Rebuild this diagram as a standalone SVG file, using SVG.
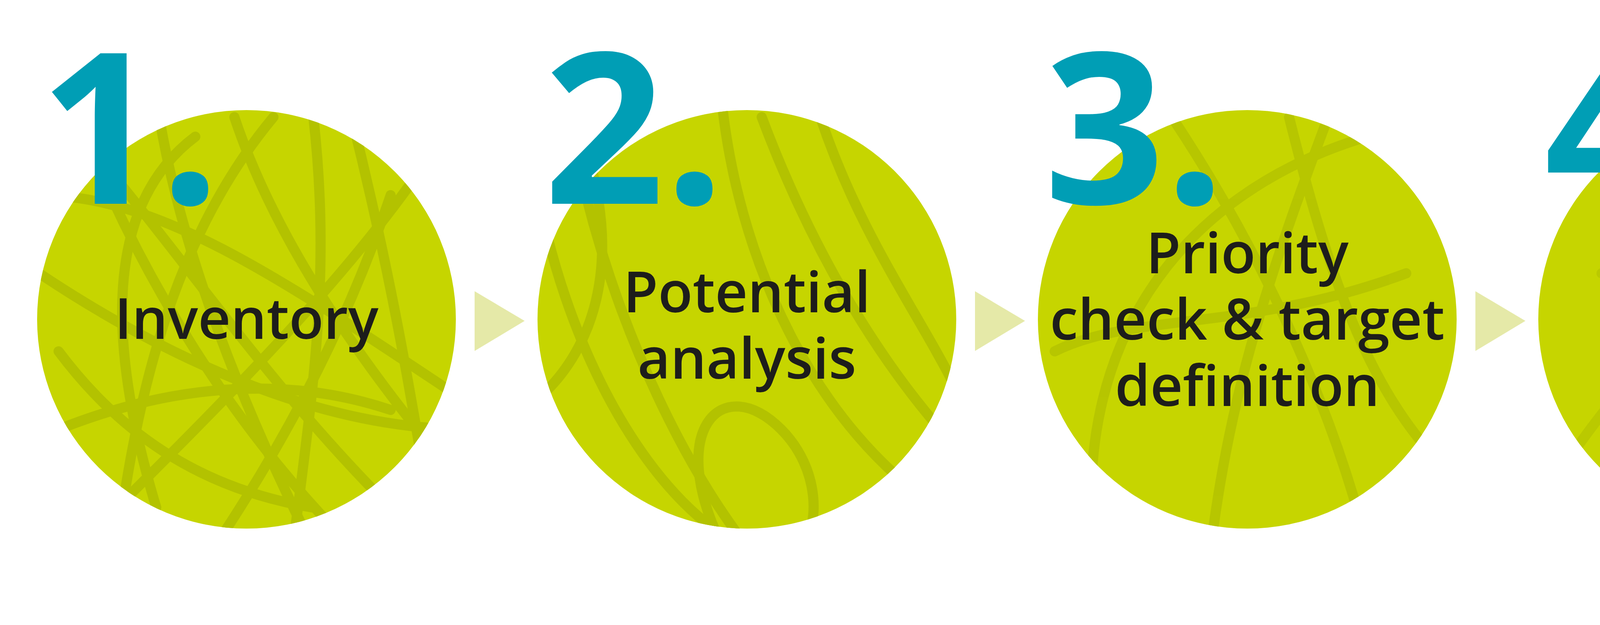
<svg xmlns="http://www.w3.org/2000/svg" width="7681" height="1601" viewBox="0 0 7681 1601">
<style>
.c{fill:#c6d500}
.c6{fill:#e5e9a8}
.ar{fill:#e5e9a8}
.s{fill:none;stroke:#b3c200;stroke-width:26;stroke-linecap:round}
.n{font-family:"Open Sans",sans-serif;font-weight:700;font-size:540px;fill:#009eb5}
.t{font-family:"Open Sans",sans-serif;font-weight:600;font-size:145px;fill:#1d1d1b;text-anchor:middle}
</style>
<defs>
<clipPath id="k1"><circle cx="631" cy="818" r="536"/></clipPath>
<clipPath id="k2"><circle cx="1912" cy="818" r="536"/></clipPath>
<clipPath id="k3"><circle cx="3193" cy="818" r="536"/></clipPath>
<clipPath id="k4"><circle cx="4474" cy="818" r="536"/></clipPath>
<clipPath id="k5"><circle cx="5756" cy="818" r="536"/></clipPath>
</defs>
<g id="connectors">
<polygon class="ar" points="1215,746 1343,822 1215,899"/>
<polygon class="ar" points="2496,746 2624,822 2496,899"/>
<polygon class="ar" points="3777,746 3905,822 3777,899"/>
<polygon class="ar" points="5058,746 5186,822 5058,899"/>
<polygon class="ar" points="6340,746 6468,822 6340,899"/>
</g>
<g id="node1">
<circle class="c" cx="631" cy="818" r="536"/>
<g clip-path="url(#k1)" class="s">
<path d="M200,300 C350,700 600,1100 900,1400"/>
<path d="M400,250 C450,600 600,1000 800,1400"/>
<path d="M1100,400 C900,700 600,1000 300,1300"/>
<path d="M100,700 C400,900 800,1100 1200,1100"/>
<path d="M600,300 C700,600 900,900 1150,1200"/>
<path d="M300,1400 C350,1000 450,600 700,300"/>
<path d="M150,900 C300,1100 500,1250 800,1300"/>
<path d="M800,280 C850,700 800,1000 750,1400"/>
<path d="M1000,500 C900,800 750,1100 550,1400"/>
<path d="M100,500 C400,500 700,700 1150,1000"/>
<path d="M500,350 C300,500 250,800 400,1300"/>
<path d="M250,400 C500,700 700,1000 1000,1300"/>
<path d="M900,300 C1000,700 1050,1000 1100,1300"/>
<path d="M150,1100 C400,1000 700,950 1000,1050"/>
</g>
<text class="n" x="101" y="522">1.</text>
<text class="t" x="631" y="868">Inventory</text>
</g>
<g id="node2">
<circle class="c" cx="1912" cy="818" r="536"/>
<g clip-path="url(#k2)" class="s">
<path d="M1500,500 C1600,900 1800,1300 2000,1500"/>
<path d="M1850,280 C1900,700 2100,1100 2400,1300"/>
<path d="M1950,300 C2100,700 2300,1000 2500,1200"/>
<path d="M2100,300 C2200,600 2350,800 2450,1000"/>
<path d="M1850,1400 C1700,1100 1850,950 2000,1100 C2100,1200 2100,1350 2050,1400"/>
<path d="M1400,600 C1500,1000 1700,1300 1900,1400"/>
<path d="M1500,380 C1600,700 1500,900 1400,1000"/>
</g>
<text class="n" x="1392" y="522">2.</text>
<text class="t" x="1912" y="800">Potential</text>
<text class="t" x="1912" y="970">analysis</text>
</g>
<g id="node3">
<circle class="c" cx="3193" cy="818" r="536"/>
<g clip-path="url(#k3)" class="s" opacity="0.8">
<path d="M2800,1400 C2750,900 3000,500 3500,350"/>
<path d="M3000,300 C3200,600 3400,1000 3500,1400"/>
<path d="M3300,300 C3400,700 3500,1000 3700,1200"/>
<path d="M2700,900 C2900,800 3200,850 3600,700"/>
<path d="M3100,1400 C3150,1000 3250,700 3400,300"/>
</g>
<text class="n" x="2673" y="522">3.</text>
<text class="t" x="3193" y="700">Priority</text>
<text class="t" x="3193" y="870">check &amp; target</text>
<text class="t" x="3193" y="1040">definition</text>
</g>
<g id="node4">
<circle class="c" cx="4474" cy="818" r="536"/>
<g clip-path="url(#k4)" class="s" opacity="0.6">
<path d="M4000,1200 C4200,900 4500,600 4900,500"/>
<path d="M4300,300 C4400,700 4600,1000 4900,1200"/>
<path d="M4100,700 C4300,650 4600,600 5000,700"/>
</g>
<text class="n" x="3954" y="522">4.</text>
<text class="t" x="4474" y="800">Strategy</text>
<text class="t" x="4474" y="970">workshop</text>
</g>
<g id="node5">
<circle class="c" cx="5756" cy="818" r="536"/>
<g clip-path="url(#k5)" class="s" opacity="0.5">
<path d="M5320,500 C5400,900 5700,1100 6000,1050 C6150,1020 6250,950 6300,900"/>
<path d="M5660,300 C5800,700 6000,1100 6300,1200"/>
</g>
<text class="n" x="5236" y="522">5.</text>
<text class="t" x="5756" y="800">Implemen-</text>
<text class="t" x="5756" y="970">tation</text>
</g>
<g id="node6">
<circle class="c6" cx="7037" cy="818" r="536"/>
<text class="n" x="6500" y="522">6.</text>
<text class="t" x="7037" y="800">Follow-up</text>
<text class="t" x="7037" y="970">Support</text>
</g>
</svg>
